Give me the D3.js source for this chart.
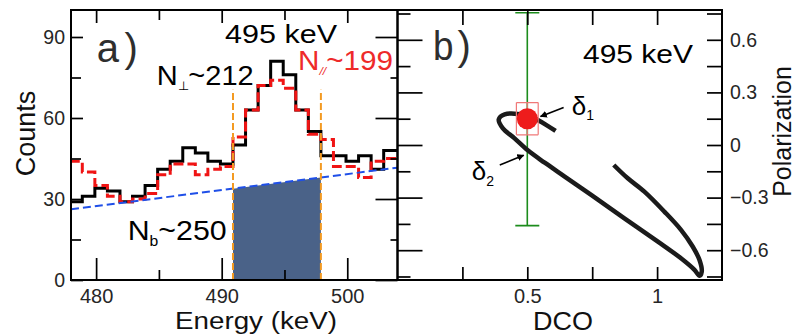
<!DOCTYPE html>
<html><head><meta charset="utf-8">
<script src="https://cdn.jsdelivr.net/npm/d3@7"></script>
<style>
html,body{margin:0;padding:0;background:#fff;}
svg{display:block;font-family:"Liberation Sans",Arial,Helvetica,sans-serif;}
</style></head><body>
<svg id="fig" width="795" height="334"></svg>
<script>
// ---------- panel a: 495 keV peak, perpendicular vs parallel scattering ----------
const binEdges   = [477.9, 478.9, 479.9, 480.9, 481.9, 482.9, 483.9, 484.9, 485.9, 486.9,
                    487.9, 488.9, 489.9, 490.9, 491.9, 492.9, 493.9, 494.9, 495.9, 496.9,
                    497.9, 498.9, 499.9, 500.9, 501.9, 502.9, 503.9];
const countsPerp = [29, 31, 34, 33, 29, 31, 35, 41, 44, 49, 47, 44, 43, 50, 63, 72, 81, 76, 63, 55,
                    46, 46, 44, 46, 41, 48, 48];
const countsPar  = [44, 40, 35, 31, 29, 30, 32, 39, 43, 43, 39, 41, 42, 53, 63, 72, 74, 71, 63, 54,
                    52, 42, 42, 38, 44, 45, 46];
const binWidth = 1;
const bgEnergy = [478, 504];          // linear background fit
const bgCounts = [26.2, 41.6];
const peakWindow = [490.9, 497.9];    // integration window
const windowMarkTop = 70.5;

const countMajor = [0, 30, 60, 90], countMinor = [15, 45, 75];
const energyMajor = [480, 490, 500], energyMinor = [485, 495];

// ---------- panel b: DCO vs polarization ----------
const curveDco = [0.609, 0.580, 0.541, 0.490, 0.413, 0.390, 0.406, 0.451, 0.503, 0.567, 0.644,
                  0.746, 0.874, 1.003, 1.092, 1.144, 1.163, 1.172, 1.163, 1.137, 1.092, 1.028,
                  0.951, 0.887, 0.833];
const curvePol = [0.080, 0.108, 0.142, 0.171, 0.175, 0.146, 0.095, 0.038, -0.032, -0.101, -0.180,
                  -0.285, -0.418, -0.551, -0.646, -0.712, -0.746, -0.722, -0.655, -0.579, -0.484,
                  -0.380, -0.266, -0.190, -0.114];
const measDco = 0.5, measPol = 0.15, measDcoErr = 0.042, measPolErr = 0.092;
const wideBarLow = -0.46, wideBarHigh = 0.754;

const polMajor = [-0.6, -0.3, 0, 0.3, 0.6], polMinor = [-0.75, -0.45, -0.15, 0.15, 0.45, 0.75];
const dcoMajor = [0.5, 1], dcoMinor = [0.25, 0.75];

// ---------- layout ----------
const svg = d3.select("#fig");
const yTop = 10, yBottom = 280, aLeft = 71, mid = 397.5, bRight = 722;

const xE = d3.scaleLinear().domain([478, 504]).range([aLeft, mid]);
const yC = d3.scaleLinear().domain([0, 100]).range([yBottom, yTop]);
const xD = d3.scaleLinear().domain([0, 1.25]).range([mid, bRight]);
const yP = d3.scaleLinear().domain([-0.77, 0.77]).range([yBottom, yTop]);

const defs = svg.append("defs");
defs.append("clipPath").attr("id", "clipA").append("rect")
  .attr("x", aLeft).attr("y", yTop).attr("width", mid - aLeft).attr("height", yBottom - yTop);
defs.append("clipPath").attr("id", "clipB").append("rect")
  .attr("x", mid).attr("y", yTop).attr("width", bRight - mid).attr("height", yBottom - yTop);
defs.append("marker").attr("id", "arrow").attr("viewBox", "0 0 10 10")
  .attr("refX", 9).attr("refY", 5).attr("markerWidth", 7).attr("markerHeight", 7)
  .attr("markerUnits", "userSpaceOnUse").attr("orient", "auto")
  .append("path").attr("d", "M0,0 L10,5 L0,10 Z").attr("fill", "#000");

// ---------- panel a marks ----------
const gA = svg.append("g").attr("clip-path", "url(#clipA)");
const bg = d3.scaleLinear().domain(bgEnergy).range(bgCounts);

gA.append("path")
  .datum(peakWindow)
  .attr("d", d3.area().x(d => xE(d)).y0(yC(0)).y1(d => yC(bg(d))))
  .attr("fill", "#4a6288");

function stepPoints(counts) {
  const pts = binEdges.map((e, i) => [e, counts[i]]);
  pts.push([binEdges[binEdges.length - 1] + binWidth, counts[counts.length - 1]]);
  return pts;
}
const step = d3.line().x(d => xE(d[0])).y(d => yC(d[1])).curve(d3.curveStepAfter);

gA.append("path").attr("d", step(stepPoints(countsPerp)))
  .attr("fill", "none").attr("stroke", "#000").attr("stroke-width", 3);
gA.append("path").attr("d", step(stepPoints(countsPar)))
  .attr("fill", "none").attr("stroke", "#f01414").attr("stroke-width", 3)
  .attr("stroke-dasharray", "10,4");

gA.append("line")
  .attr("x1", xE(bgEnergy[0])).attr("y1", yC(bgCounts[0]))
  .attr("x2", xE(bgEnergy[1])).attr("y2", yC(bgCounts[1]))
  .attr("stroke", "#1f4fe8").attr("stroke-width", 2).attr("stroke-dasharray", "8,4");

gA.selectAll("line.win").data(peakWindow).join("line").attr("class", "win")
  .attr("x1", d => xE(d)).attr("x2", d => xE(d))
  .attr("y1", yC(0)).attr("y2", yC(windowMarkTop))
  .attr("stroke", "#f39a22").attr("stroke-width", 2).attr("stroke-dasharray", "7,3");

// ---------- panel b marks ----------
const gB = svg.append("g").attr("clip-path", "url(#clipB)");
const capHalf = 12;
gB.append("line").attr("x1", xD(measDco)).attr("x2", xD(measDco))
  .attr("y1", yP(wideBarLow)).attr("y2", yP(wideBarHigh))
  .attr("stroke", "#1c8c1c").attr("stroke-width", 1.6);
[wideBarLow, wideBarHigh].forEach(v => gB.append("line")
  .attr("x1", xD(measDco) - capHalf).attr("x2", xD(measDco) + capHalf)
  .attr("y1", yP(v)).attr("y2", yP(v))
  .attr("stroke", "#1c8c1c").attr("stroke-width", 1.6));

const curvePts = curveDco.map((d, i) => [d, curvePol[i]]);
gB.append("path")
  .attr("d", d3.line().x(d => xD(d[0])).y(d => yP(d[1])).curve(d3.curveCatmullRom)(curvePts))
  .attr("fill", "none").attr("stroke", "#1b1b1b").attr("stroke-width", 4.5)
  .attr("stroke-linecap", "butt");

// error box around the measured point
const ex0 = xD(measDco - measDcoErr), ex1 = xD(measDco + measDcoErr);
const ey0 = yP(measPol + measPolErr), ey1 = yP(measPol - measPolErr);
const errCol = "#f07878";
[[ex0, ey0, ex1, ey0], [ex0, ey1, ex1, ey1], [ex0, ey0, ex0, ey1], [ex1, ey0, ex1, ey1],
 [xD(measDco), ey0, xD(measDco), ey1], [ex0, yP(measPol), ex1, yP(measPol)]]
  .forEach(s => gB.append("line").attr("x1", s[0]).attr("y1", s[1]).attr("x2", s[2]).attr("y2", s[3])
    .attr("stroke", errCol).attr("stroke-width", 1.2));
gB.append("circle").attr("cx", xD(measDco)).attr("cy", yP(measPol)).attr("r", 10.5)
  .attr("fill", "#ee1c1c");

// arrows pointing at the two mixing-ratio solutions
[[0.640, 0.214, 0.551, 0.162], [0.394, -0.114, 0.486, -0.058]].forEach(a =>
  svg.append("line").attr("x1", xD(a[0])).attr("y1", yP(a[1]))
    .attr("x2", xD(a[2])).attr("y2", yP(a[3]))
    .attr("stroke", "#000").attr("stroke-width", 1.6).attr("marker-end", "url(#arrow)"));

// ---------- frames & ticks ----------
function tickSet(x, y, axisFn, scale, values, size, labels, pad, fs) {
  const ax = axisFn(scale).tickValues(values).tickSize(size).tickPadding(pad || 0)
    .tickFormat(labels ? (v => v === 0 ? "0" : d3.format("")(v)) : "");
  const g = svg.append("g").attr("transform", `translate(${x},${y})`).call(ax);
  g.select(".domain").remove();
  g.selectAll("line").attr("stroke", "#000").attr("stroke-width", 1.7);
  g.selectAll("text").style("font-size", (fs || 19.5) + "px").style("fill", "#262626");
  return g;
}
// panel a
tickSet(aLeft, 0, d3.axisLeft, yC, countMajor, -12, true, 6);
tickSet(aLeft, 0, d3.axisLeft, yC, countMinor, -10);
tickSet(mid, 0, d3.axisRight, yC, countMajor, -22);
tickSet(mid, 0, d3.axisRight, yC, countMinor, -7);
tickSet(0, yBottom, d3.axisBottom, xE, energyMajor, -22, true, 9, 20);
tickSet(0, yBottom, d3.axisBottom, xE, energyMinor, -10);
tickSet(0, yTop, d3.axisTop, xE, energyMajor, -13);
tickSet(0, yTop, d3.axisTop, xE, energyMinor, -10);
// panel b
tickSet(mid, 0, d3.axisLeft, yP, polMajor, -25);
tickSet(mid, 0, d3.axisLeft, yP, polMinor, -13);
tickSet(bRight, 0, d3.axisRight, yP, polMajor, -15, true, 8);
tickSet(bRight, 0, d3.axisRight, yP, polMinor, -15);
tickSet(0, yBottom, d3.axisBottom, xD, dcoMajor, -13, true, 9, 20);
tickSet(0, yBottom, d3.axisBottom, xD, dcoMinor, -13);
tickSet(0, yTop, d3.axisTop, xD, dcoMajor.concat(dcoMinor), -15);

svg.append("rect").attr("x", aLeft).attr("y", yTop).attr("width", mid - aLeft).attr("height", yBottom - yTop)
  .attr("fill", "none").attr("stroke", "#000").attr("stroke-width", 2);
svg.append("rect").attr("x", mid).attr("y", yTop).attr("width", bRight - mid).attr("height", yBottom - yTop)
  .attr("fill", "none").attr("stroke", "#000").attr("stroke-width", 2);

// ---------- text ----------
function txt(x, y, fs, fill, width) {
  const t = svg.append("text").attr("x", x).attr("y", y).style("font-size", fs + "px").style("fill", fill);
  if (width) t.attr("textLength", width).attr("lengthAdjust", "spacingAndGlyphs");
  return t;
}
function sub(t, main, s, subSize, rest, shift) {
  t.append("tspan").text(main);
  t.append("tspan").text(s).style("font-size", subSize + "px").attr("dy", shift);
  if (rest) t.append("tspan").text(rest).attr("dy", -shift);
  return t;
}

txt(96.7, 61.7, 40, "#2e2e2e").text("a");
txt(124.5, 61.7, 40, "#2e2e2e").text(")");
txt(433, 60, 40, "#2e2e2e", 20.5).text("b");
txt(457.5, 60, 40, "#2e2e2e").text(")");

txt(225, 43.3, 25.5, "#000", 112).text("495 keV");
txt(583, 63.3, 25.5, "#000", 110).text("495 keV");

sub(txt(156.7, 85, 27, "#000", 97), "N", "\u22a5", 12, "~212", 5);
sub(txt(298, 70, 27, "#ee2a2a", 95), "N", "//", 11, "~199", 5).select("tspan:nth-child(2)").style("font-style", "italic");
sub(txt(127.7, 240, 27, "#000", 99), "N", "b", 14, "~250", 6);

sub(txt(571.7, 115, 26, "#000"), "\u03b4", "1", 14, null, 5);
sub(txt(471.7, 180, 26, "#000"), "\u03b4", "2", 14, null, 6);

txt(175, 329, 23, "#111", 162).text("Energy (keV)");
txt(533, 330, 25.5, "#111", 60).text("DCO");
svg.append("text").attr("transform", "translate(35,133.5) rotate(-90)")
  .attr("text-anchor", "middle").style("font-size", "27px").style("fill", "#111").text("Counts");
svg.append("text").attr("transform", "translate(791,131.5) rotate(-90)")
  .attr("text-anchor", "middle").style("font-size", "25px").style("fill", "#111").text("Polarization");
</script>
</body></html>
